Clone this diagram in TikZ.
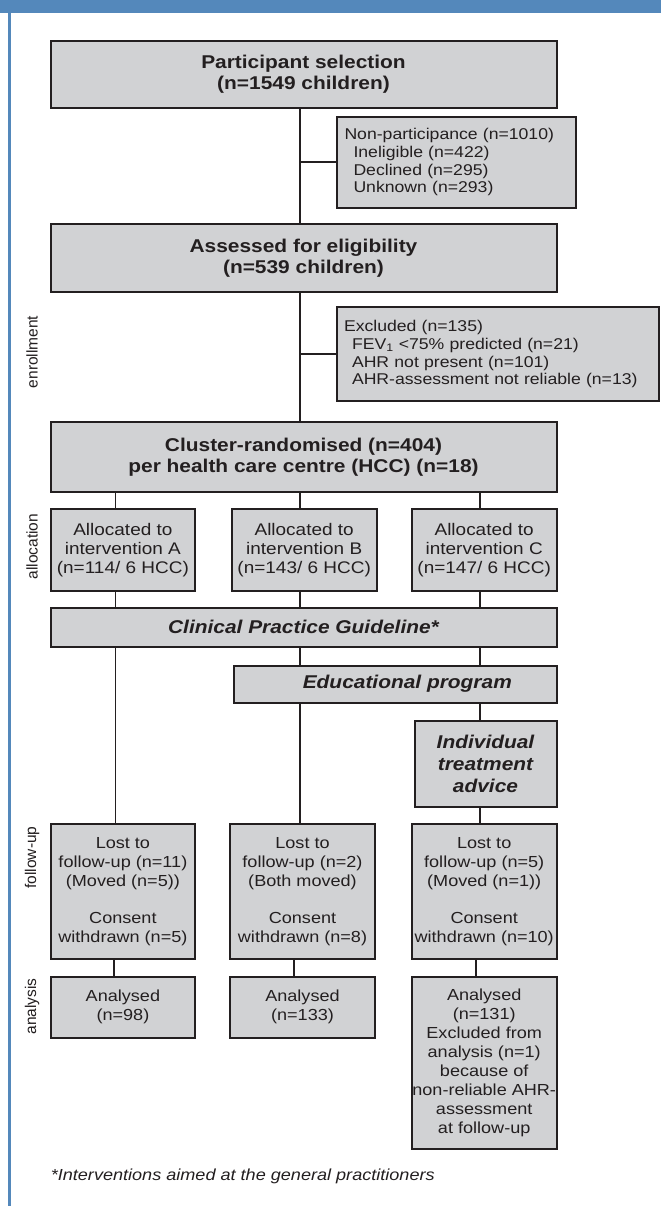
\documentclass[tikz,border=0pt]{standalone}
\usepackage{fontspec}
\setmainfont{Liberation Sans}[FakeStretch=1.13]
\newfontfamily\lblfont{Liberation Sans}
\definecolor{frameblue}{RGB}{84,136,187}
\definecolor{boxgray}{RGB}{209,210,212}
\definecolor{boxline}{RGB}{35,31,32}
\tikzset{
  box/.style={draw=boxline, fill=boxgray, line width=2pt, inner sep=0pt, align=center, text=boxline},
  conn/.style={draw=boxline, line width=1.6pt},
  hdr/.style={font=\fontsize{18.5}{21}\selectfont\bfseries},
  hdri/.style={font=\fontsize{18.5}{21.7}\selectfont\bfseries\itshape},
  smalltxt/.style={font=\fontsize{15.6}{17.8}\selectfont},
  midtxt/.style={font=\fontsize{16.8}{18.8}\selectfont},
  lowtxt/.style={font=\fontsize{16}{18.9}\selectfont},
  side/.style={font=\lblfont\fontsize{15.5}{18}\selectfont, rotate=90, text=boxline, inner sep=0pt}
}
\begin{document}
\begin{tikzpicture}[x=1pt,y=-1pt]
\useasboundingbox (0,0) rectangle (661,1206);
\fill[white] (0,0) rectangle (661,1206);
% frame
\fill[frameblue] (0,0) rectangle (661,12.7);
\fill[frameblue] (8,0) rectangle (10.5,1206);

% connector columns
\coordinate (xA) at (115.5,0);
\coordinate (xB) at (300,0);
\coordinate (xC) at (480,0);
\coordinate (yA) at (114.2,0);
\coordinate (yB) at (294,0);
\coordinate (yC) at (476,0);

% main boxes
\node[box, hdr, minimum width=506pt, minimum height=67.6pt] (b1) at (303.5,74.5)
  {Participant selection\\(n=1549 children)};
\node[box, smalltxt, align=left, text width=223pt, inner xsep=8pt, minimum height=91pt] (np) at (456,162.2)
  {Non-participance (n=1010)\\ \hspace*{9pt}Ineligible (n=422)\\ \hspace*{9pt}Declined (n=295)\\ \hspace*{9pt}Unknown (n=293)};
\node[box, hdr, minimum width=506pt, minimum height=67.7pt] (b2) at (303.5,257.9)
  {Assessed for eligibility\\(n=539 children)};
\node[box, smalltxt, align=left, text width=307pt, inner xsep=7.5pt, minimum height=93.7pt] (ex) at (497.5,354.2)
  {Excluded (n=135)\\ \hspace*{8pt}FEV\textsubscript{1} <75\% predicted (n=21)\\ \hspace*{8pt}AHR not present (n=101)\\ \hspace*{8pt}AHR-assessment not reliable (n=13)};
\node[box, hdr, minimum width=506pt, minimum height=70.6pt] (b3) at (303.5,457)
  {Cluster-randomised (n=404)\\per health care centre (HCC) (n=18)};

% allocation
\node[box, midtxt, minimum width=144.6pt, minimum height=81.7pt] (aA) at (122.9,550.2)
  {Allocated to\\intervention A\\(n=114/ 6 HCC)};
\node[box, midtxt, minimum width=144.6pt, minimum height=81.7pt] (aB) at (304.2,550.2)
  {Allocated to\\intervention B\\(n=143/ 6 HCC)};
\node[box, midtxt, minimum width=144.6pt, minimum height=81.7pt] (aC) at (484.2,550.2)
  {Allocated to\\intervention C\\(n=147/ 6 HCC)};

% interventions
\node[box, hdri, minimum width=506pt, minimum height=39pt] (cpg) at (303.5,627.2)
  {Clinical Practice Guideline*};
\node[box, hdri, minimum width=322.5pt, minimum height=37pt] (edu) at (395.3,684.2)
  {\hspace*{24pt}Educational program};
\node[box, hdri, minimum width=142pt, minimum height=85.7pt] (ita) at (485.5,763.9)
  {Individual\\treatment\\advice};

% follow-up
\node[box, lowtxt, minimum width=144.6pt, minimum height=135.3pt] (lA) at (122.9,891.7)
  {Lost to\\follow-up (n=11)\\(Moved (n=5))\\[18.9pt]Consent\\withdrawn (n=5)};
\node[box, lowtxt, minimum width=145.4pt, minimum height=135.3pt] (lB) at (302.5,891.7)
  {Lost to\\follow-up (n=2)\\(Both moved)\\[18.9pt]Consent\\withdrawn (n=8)};
\node[box, lowtxt, minimum width=144.6pt, minimum height=135.3pt] (lC) at (484.2,891.7)
  {Lost to\\follow-up (n=5)\\(Moved (n=1))\\[18.9pt]Consent\\withdrawn (n=10)};

% analysis
\node[box, lowtxt, minimum width=144.6pt, minimum height=61pt] (nA) at (122.9,1007.2)
  {Analysed\\(n=98)};
\node[box, lowtxt, minimum width=145.4pt, minimum height=61pt] (nB) at (302.5,1007.2)
  {Analysed\\(n=133)};
\node[box, lowtxt, minimum width=144.6pt, minimum height=172.3pt] (nC) at (484.2,1062.9)
  {Analysed\\(n=131)\\Excluded from\\analysis (n=1)\\because of\\non-reliable AHR-\\assessment\\at follow-up};

% connectors
\draw[conn] (b1.south -| xB) -- (b2.north -| xB);
\draw[conn] (np.west -| xB) -- (np.west);
\draw[conn] (b2.south -| xB) -- (b3.north -| xB);
\draw[conn] (ex.west -| xB) -- (ex.west);
\draw[conn] (b3.south -| xA) -- (aA.north -| xA);
\draw[conn] (b3.south -| xB) -- (aB.north -| xB);
\draw[conn] (b3.south -| xC) -- (aC.north -| xC);
\draw[conn] (aA.south -| xA) -- (cpg.north -| xA);
\draw[conn] (aB.south -| xB) -- (cpg.north -| xB);
\draw[conn] (aC.south -| xC) -- (cpg.north -| xC);
\draw[conn] (cpg.south -| xA) -- (lA.north -| xA);
\draw[conn] (cpg.south -| xB) -- (edu.north -| xB);
\draw[conn] (cpg.south -| xC) -- (edu.north -| xC);
\draw[conn] (edu.south -| xB) -- (lB.north -| xB);
\draw[conn] (edu.south -| xC) -- (ita.north -| xC);
\draw[conn] (ita.south -| xC) -- (lC.north -| xC);
\draw[conn] (lA.south -| yA) -- (nA.north -| yA);
\draw[conn] (lB.south -| yB) -- (nB.north -| yB);
\draw[conn] (lC.south -| yC) -- (nC.north -| yC);

% side labels
\node[side] (lenr) at (32,352) {enrollment};
\node[side] (lall) at (32,546.5) {allocation};
\node[side] (lfol) at (32,857.5) {follow-up};
\node[side] (lana) at (32,1006.5) {analysis};

% footnote
\node[anchor=west, inner sep=0pt, text=boxline, font=\fontsize{16}{18}\selectfont\itshape] (fn) at (50.6,1176.7)
  {*Interventions aimed at the general practitioners};
\end{tikzpicture}
\end{document}
